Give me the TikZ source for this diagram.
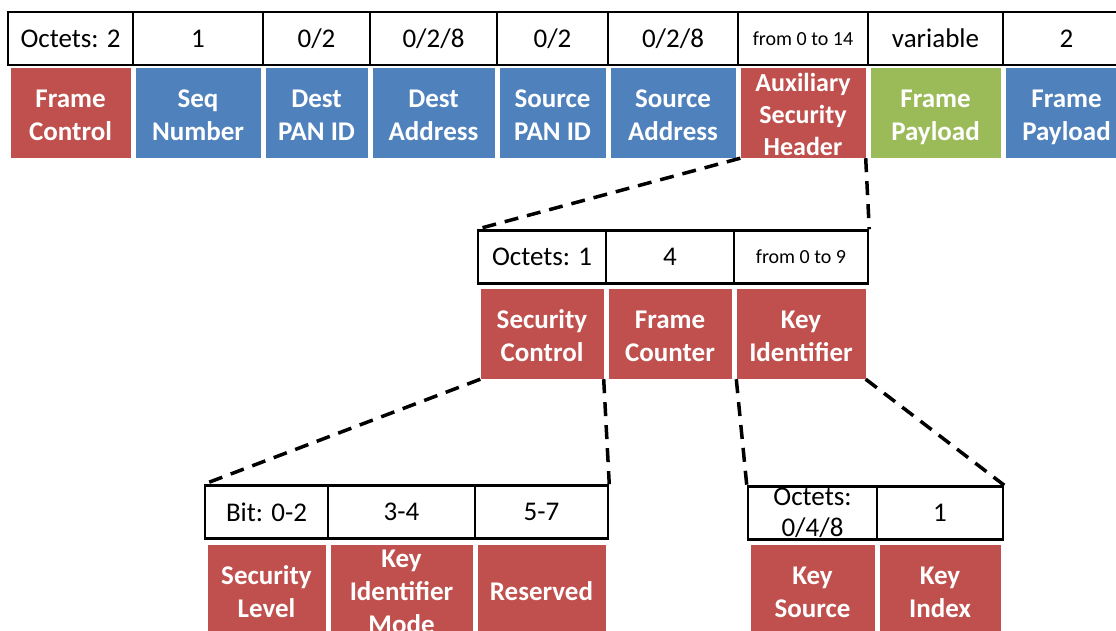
\documentclass[tikz,border=0pt]{standalone}
\usepackage{fontspec}
\setmainfont{Carlito}
\definecolor{fieldred}{HTML}{C0504D}
\definecolor{fieldblue}{HTML}{4F81BD}
\definecolor{fieldgreen}{HTML}{9BBB59}
\newcommand{\fieldtop}{\rule{0pt}{27pt}}
\newcommand{\fieldbot}{\rule[-6pt]{0pt}{6pt}}

\begin{document}
\begin{tikzpicture}[x=1pt,y=-1pt,
    sizebox/.style={draw, line width=2.5pt, fill=white, inner sep=0pt, minimum height=53pt,
      align=center, font=\fontsize{27}{31}\selectfont},
    field/.style={inner sep=0pt, minimum height=90pt, text=white, align=center,
      font=\bfseries\fontsize{27}{33}\selectfont},
    zoomline/.style={line width=3.5pt, dash pattern=on 14pt off 9pt}]
\useasboundingbox (0,0) rectangle (1116,630);
\clip (0,0) rectangle (1116,630);

% MAC frame
\node [sizebox, minimum width=125pt] (fcsz) at (70.5,38.5) {Octets: 2};
\node [sizebox, minimum width=130pt] (snsz) at (198,38.5) {1};
\node [sizebox, minimum width=107pt] (dpsz) at (316.5,38.5) {0/2};
\node [sizebox, minimum width=127pt] (dasz) at (433.5,38.5) {0/2/8};
\node [sizebox, minimum width=111pt] (spsz) at (552.5,38.5) {0/2};
\node [sizebox, minimum width=130pt] (sasz) at (673,38.5) {0/2/8};
\node [sizebox, minimum width=130pt, font=\fontsize{20}{24}\selectfont] (ahsz) at (803,38.5) {from 0 to 14};
\node [sizebox, minimum width=135pt] (fpsz) at (935.5,38.5) {variable};
\node [sizebox, minimum width=127pt] (fcssz) at (1066.5,38.5) {2};

\node [field, fill=fieldred, minimum width=120pt] (fc) at (70.5,113) {\fieldtop Frame\\Control\fieldbot};
\node [field, fill=fieldblue, minimum width=125pt] (sn) at (198,113) {\fieldtop Seq\\Number\fieldbot};
\node [field, fill=fieldblue, minimum width=102pt] (dp) at (316.5,113) {\fieldtop Dest\\PAN ID\fieldbot};
\node [field, fill=fieldblue, minimum width=122pt] (da) at (433.5,113) {\fieldtop Dest\\Address\fieldbot};
\node [field, fill=fieldblue, minimum width=106pt] (sp) at (552.5,113) {\fieldtop Source\\PAN ID\fieldbot};
\node [field, fill=fieldblue, minimum width=125pt] (sa) at (673,113) {\fieldtop Source\\Address\fieldbot};
\node [field, fill=fieldred, minimum width=125pt, inner ysep=-10pt,
  font=\bfseries\fontsize{26}{32}\selectfont] (ah) at (803,113) {\fieldtop Auxiliary\\Security\\Header\fieldbot};
\node [field, fill=fieldgreen, minimum width=130pt] (fp) at (935.5,113) {\fieldtop Frame\\Payload\fieldbot};
\node [field, fill=fieldblue, minimum width=122pt] (fcs) at (1066.5,113) {\fieldtop Frame\\Payload\fieldbot};

% auxiliary security header
\node [sizebox, minimum width=128pt] (scsz) at (542,257) {Octets: 1};
\node [sizebox, minimum width=128pt] (fcnsz) at (670,257) {4};
\node [sizebox, minimum width=134pt, font=\fontsize{20}{24}\selectfont] (kidsz) at (801,257) {from 0 to 9};

\node [field, fill=fieldred, minimum width=123pt] (sc) at (542,334) {\fieldtop Security\\Control\fieldbot};
\node [field, fill=fieldred, minimum width=123pt] (fcn) at (670,334) {\fieldtop Frame\\Counter\fieldbot};
\node [field, fill=fieldred, minimum width=129pt] (kid) at (801,334) {\fieldtop Key\\Identifier\fieldbot};

% security control
\node [sizebox, minimum width=123pt] (slsz) at (266.5,512) {Bit: 0-2};
\node [sizebox, minimum width=147pt] (kimsz) at (401.5,512) {3-4};
\node [sizebox, minimum width=133pt] (rsz) at (541.5,512) {5-7};

\node [field, fill=fieldred, minimum width=118pt] (sl) at (266.5,590) {\fieldtop Security\\Level\fieldbot};
\node [field, fill=fieldred, minimum width=142pt, inner ysep=-10pt] (kim) at (401.5,590) {\fieldtop Key\\Identifier\\Mode\fieldbot};
\node [field, fill=fieldred, minimum width=128pt] (rs) at (541.5,590) {\fieldtop Reserved\fieldbot};

% key identifier
\node [sizebox, minimum width=129pt, inner ysep=-5pt] (kssz) at (812.5,513) {Octets:\\0/4/8};
\node [sizebox, minimum width=126pt] (kixsz) at (940,513) {1};

\node [field, fill=fieldred, minimum width=124pt] (ks) at (812.5,590) {\fieldtop Key\\Source\fieldbot};
\node [field, fill=fieldred, minimum width=121pt] (kix) at (940,590) {\fieldtop Key\\Index\fieldbot};

% zoom lines
\draw [zoomline] (ah.south west) -- (scsz.north west);
\draw [zoomline] (ah.south east) -- (kidsz.north east);
\draw [zoomline] (sc.south west) -- (slsz.north west);
\draw [zoomline] (sc.south east) -- (rsz.north east);
\draw [zoomline] (kid.south west) -- (kssz.north west);
\draw [zoomline] (kid.south east) -- (kixsz.north east);

\end{tikzpicture}
\end{document}
